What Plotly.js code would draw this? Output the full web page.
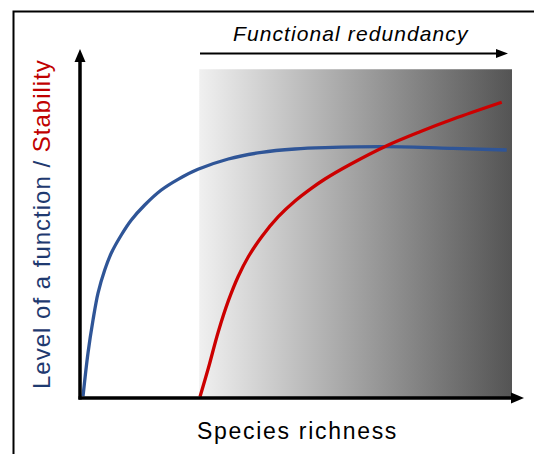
<!DOCTYPE html>
<html>
<head>
<meta charset="utf-8">
<script src="https://cdn.plot.ly/plotly-3.0.1.min.js"></script>
<style>html,body{margin:0;padding:0;background:#fff;}#chart{width:534px;height:454px;}</style>
</head>
<body>
<div id="chart"></div>
<script>
// Conceptual data (arbitrary units, 0-100)
const richnessFunction = [0.7, 1.85, 3.01, 4.17, 5.72, 7.25, 9.56, 11.88, 14.98, 18.82, 22.69, 27.31, 34.33, 42.06, 49.77, 56.71, 71.0, 86.34, 98.77];
const levelFunction    = [0.5, 12.93, 22.41, 30.17, 36.78, 41.67, 46.84, 51.15, 55.46, 59.77, 62.84, 65.72, 68.68, 70.6, 71.55, 71.93, 72.21, 71.75, 71.26];
const richnessStability = [27.78, 29.7, 32.01, 34.33, 36.64, 38.96, 42.06, 45.9, 49.77, 53.63, 56.71, 62.5, 71.0, 78.7, 86.41, 97.62];
const stability         = [0.37, 8.53, 19.05, 27.9, 35.0, 40.6, 46.35, 52.1, 56.6, 60.3, 62.93, 67.1, 72.5, 76.52, 80.17, 84.97];
const redundancyX = [27.6, 100];
const redundancyTop = 94.5;
const xTitle = "Species richness";
const yTitleA = "Level of a function /";
const yTitleB = "Stability";
const zoneLabel = "Functional redundancy";

// pixel -> data helpers for decorations (plot spans full figure)
const X0 = -18.52, X1 = 105.09, Y0 = -16.09, Y1 = 114.37, W = 534, H = 454;
const px = p => X0 + (X1 - X0) * p / W;
const py = p => Y1 - (Y1 - Y0) * p / H;

const traces = [
  {
    x: [redundancyX[0], redundancyX[1], redundancyX[1], redundancyX[0], redundancyX[0]],
    y: [0, 0, redundancyTop, redundancyTop, 0],
    mode: 'lines', fill: 'toself', line: {width: 0, color: 'rgba(0,0,0,0)'},
    fillcolor: '#aaaaaa',
    fillgradient: {type: 'horizontal', colorscale: [[0, '#f0f0f0'], [1, '#545454']]},
    hoverinfo: 'skip'
  },
  {
    x: richnessFunction, y: levelFunction, mode: 'lines',
    line: {color: '#2f5597', width: 3.3, shape: 'spline', smoothing: 1}, hoverinfo: 'skip'
  },
  {
    x: richnessStability, y: stability, mode: 'lines',
    line: {color: '#cc0000', width: 3.3, shape: 'spline', smoothing: 1}, hoverinfo: 'skip'
  }
];

const blk = '#000';
const shapes = [
  {type: 'path', path: `M${px(13.5)},${py(454)} L${px(13.5)},${py(11.5)} L${px(534)},${py(11.5)}`, line: {color: blk, width: 2}},
  {type: 'line', x0: px(80), y0: py(399.5), x1: px(80), y1: py(60), line: {color: blk, width: 3.5}},
  {type: 'path', path: `M${px(74.5)},${py(62)} L${px(85.5)},${py(62)} L${px(80)},${py(49)} Z`, fillcolor: blk, line: {color: blk, width: 0}},
  {type: 'line', x0: px(78.5), y0: py(398), x1: px(513), y1: py(398), line: {color: blk, width: 3.5}},
  {type: 'path', path: `M${px(511)},${py(392.5)} L${px(511)},${py(403.5)} L${px(524)},${py(398)} Z`, fillcolor: blk, line: {color: blk, width: 0}},
  {type: 'line', x0: px(200), y0: py(53.5), x1: px(498), y1: py(53.5), line: {color: blk, width: 2}},
  {type: 'path', path: `M${px(496)},${py(49)} L${px(496)},${py(58)} L${px(508)},${py(53.5)} Z`, fillcolor: blk, line: {color: blk, width: 0}}
];

const font = 'Liberation Sans, Arial, sans-serif';
const annotations = [
  {x: px(350.5), y: py(33), showarrow: false, xanchor: 'center', yanchor: 'middle',
   text: '<span style="letter-spacing:1.1px"><i>' + zoneLabel + '</i></span>',
   font: {family: font, size: 21, color: blk}},
  {x: px(297.5), y: py(431), showarrow: false, xanchor: 'center', yanchor: 'middle',
   text: '<span style="letter-spacing:1.7px">' + xTitle + '</span>',
   font: {family: font, size: 23, color: blk}},
  {x: px(41), y: py(224), textangle: -90, showarrow: false, xanchor: 'center', yanchor: 'middle',
   text: '<span style="color:#1f3a70;letter-spacing:1px">' + yTitleA + ' </span><span style="color:#c00000;letter-spacing:1px">' + yTitleB + '</span>',
   font: {family: font, size: 24, color: '#1f3a70'}}
];

const layout = {
  width: W, height: H,
  margin: {l: 0, r: 0, t: 0, b: 0, pad: 0},
  paper_bgcolor: '#fff', plot_bgcolor: 'rgba(0,0,0,0)',
  showlegend: false,
  xaxis: {range: [X0, X1], visible: false, fixedrange: true},
  yaxis: {range: [Y0, Y1], visible: false, fixedrange: true},
  shapes: shapes,
  annotations: annotations
};

Plotly.newPlot('chart', traces, layout, {displayModeBar: false, staticPlot: true});
</script>
</body>
</html>
